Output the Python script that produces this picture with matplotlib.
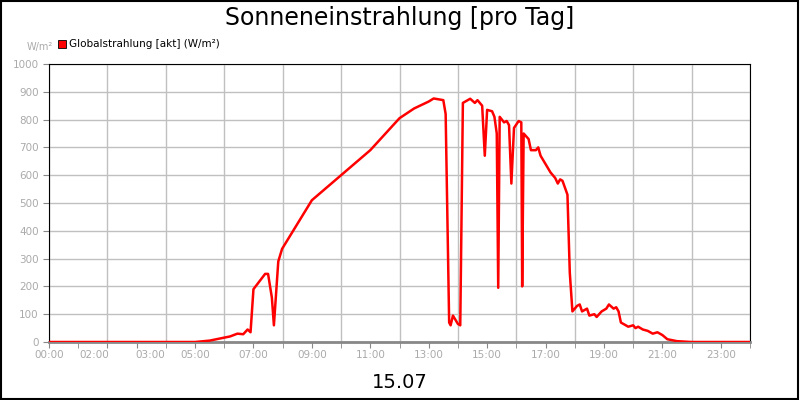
import matplotlib
matplotlib.use("Agg")
import matplotlib.pyplot as plt
from matplotlib.patches import Rectangle

times = [0, 5.0, 5.5, 6.2, 6.45, 6.65, 6.8, 6.9, 7.0, 7.4, 7.5, 7.63, 7.7, 7.85, 7.98,
         9.0, 10.0, 11.0, 12.0, 12.5, 13.0, 13.17, 13.5, 13.58, 13.7, 13.75, 13.83, 14.0, 14.08, 14.17,
         14.42, 14.58, 14.67, 14.83, 14.92, 15.0, 15.17, 15.25, 15.33, 15.38, 15.43, 15.58, 15.67, 15.75,
         15.83, 15.92, 16.08, 16.17, 16.2, 16.25, 16.42, 16.5, 16.67, 16.75, 16.83, 17.0, 17.17, 17.33,
         17.42, 17.5, 17.58, 17.75, 17.83, 17.92, 18.08, 18.17, 18.25, 18.42, 18.5, 18.67, 18.75, 18.92,
         19.08, 19.17, 19.33, 19.42, 19.5, 19.58, 19.75, 19.83, 20.0, 20.08, 20.17, 20.33, 20.5, 20.67,
         20.83, 21.0, 21.17, 21.5, 22.0, 24.0]
values = [0, 0, 5, 20, 30, 28, 45, 35, 190, 245, 245, 160, 60, 290, 335,
          510, 600, 690, 805, 840, 865, 876, 870, 820, 70, 60, 95, 65, 60, 860,
          875, 860, 870, 850, 670, 835, 830, 810, 750, 195, 810, 790, 795, 780,
          570, 770, 795, 790, 200, 750, 730, 690, 690, 700, 670, 640, 610, 590,
          570, 585, 580, 530, 250, 110, 130, 135, 110, 120, 95, 100, 90, 110,
          120, 135, 120, 125, 110, 70, 60, 55, 60, 50, 55, 45, 40, 30,
          35, 25, 10, 3, 0, 0]
tick_pos = [0, 2, 3, 5, 7, 9, 11, 13, 15, 17, 19, 21, 23]
tick_labels = ["00:00", "02:00", "03:00", "05:00", "07:00", "09:00", "11:00", "13:00",
               "15:00", "17:00", "19:00", "21:00", "23:00"]

fig = plt.figure(figsize=(8, 4), dpi=100)
fig.patches.append(Rectangle((0.001, 0.002), 0.997, 0.995, transform=fig.transFigure,
                             fill=False, edgecolor="black", lw=1.5))
ax = fig.add_axes([49/800, 1-342/400, 701/800, 278/400])
ax.plot(times, values, color="#ff0000", lw=1.8, zorder=3)
ax.set_xlim(0, 24)
ax.set_ylim(0, 1000)
ax.set_yticks(range(0, 1001, 100))
ax.set_xticks(range(0, 25, 2), minor=False)
ax.grid(True, color="#c0c0c0", lw=1)
ax.set_xticks(range(0, 25), minor=True)
ax.set_xticks(tick_pos)
ax.set_xticklabels([])
for p, l in zip(tick_pos, tick_labels):
    dx = -0.45 if l == "02:00" else (0.45 if l == "03:00" else 0)
    ax.text(p + dx, -30, l, ha="center", va="top", fontsize=7.5, color="#aaaaaa")
ax.xaxis.grid(False)
for h in range(0, 25, 2):
    ax.axvline(h, color="#c0c0c0", lw=1, zorder=0)
ax.tick_params(axis="y", labelsize=7.5, labelcolor="#aaaaaa", color="#888888", length=4)
ax.tick_params(axis="x", which="both", color="#888888", length=4)
for s in ax.spines.values():
    s.set_color("black")
ax.spines["bottom"].set_color("#888888")
ax.spines["bottom"].set_linewidth(2)

fig.text(0.5, 0.955, "Sonneneinstrahlung [pro Tag]", ha="center", va="center", fontsize=17)
fig.text(0.5, 0.045, "15.07", ha="center", va="center", fontsize=14)
fig.text(40/800, 1-47/400, "W/m²", ha="center", va="center", fontsize=7, color="#aaaaaa")
fig.patches.append(Rectangle((58/800, 1-48/400), 8/800, 8/400, transform=fig.transFigure,
                             facecolor="#ff0000", edgecolor="black", lw=0.6))
fig.text(69/800, 1-44/400, "Globalstrahlung [akt] (W/m²)", ha="left", va="center", fontsize=7.5)
fig.savefig("out.png", dpi=100)
